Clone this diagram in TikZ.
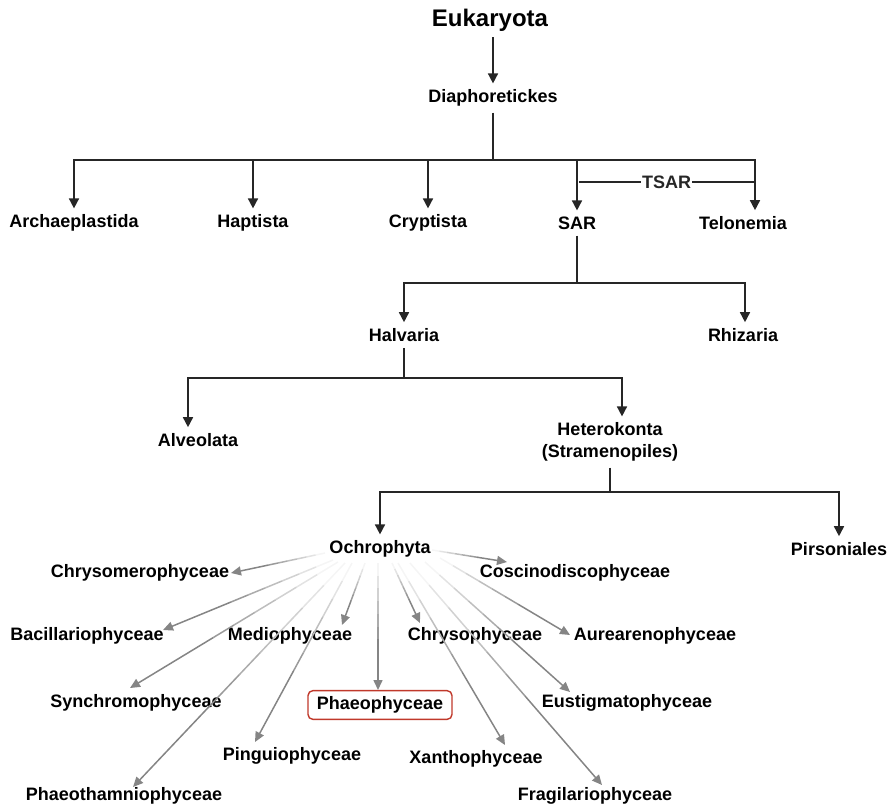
\documentclass[tikz,border=0pt]{standalone}
\usepackage{fontspec}
\setmainfont{Liberation Sans}
\usetikzlibrary{arrows.meta,calc}
\definecolor{Ink}{HTML}{262626}
\definecolor{Fade}{HTML}{858585}
\definecolor{BoxRed}{HTML}{C0392B}

\begin{document}
\begin{tikzpicture}[x=1pt,y=-1pt,
    taxon/.style={font=\fontsize{18}{22}\selectfont\bfseries,inner sep=6pt,align=center},
    link/.style={Ink,line width=1.6pt},
    branch/.style={link,-{Triangle[length=10pt,width=10pt]}},
    ray/.style={Fade,line width=1.5pt,-{Triangle[length=10pt,width=9pt]}}]
  \useasboundingbox (0,0) rectangle (893,809);

  % upper tree
  \node[taxon,font=\fontsize{24}{28}\selectfont\bfseries] (euk) at (490,20) {Eukaryota};
  \node[taxon] (dia) at (493,98) {Diaphoretickes};
  \node[taxon] (arch) at (74,223) {Archaeplastida};
  \node[taxon] (hapt) at (253,223) {Haptista};
  \node[taxon] (crypt) at (428,223) {Cryptista};
  \node[taxon] (sar) at (577,223) {SAR};
  \node[taxon] (telo) at (743,223) {Telonemia};
  \node[taxon] (halv) at (404,335) {Halvaria};
  \node[taxon] (rhiz) at (743,335) {Rhizaria};
  \node[taxon] (alve) at (198,440) {Alveolata};
  \node[taxon] (hetk) at (610,442) {Heterokonta\\(Stramenopiles)};
  \node[taxon] (och) at (380,549) {Ochrophyta};
  \node[taxon] (pirs) at (839,549) {Pirsoniales};

  \coordinate (bar1) at (493,160);
  \coordinate (bar2) at (577,283);
  \coordinate (bar3) at (404,378);
  \coordinate (bar4) at (610,492);

  \draw[branch] (dia |- euk.south) -- (dia);
  \draw[link] (dia) -- (bar1);
  \draw[branch] (bar1) -| (arch);
  \draw[branch] (bar1) -| (hapt);
  \draw[branch] (bar1) -| (crypt);
  \draw[branch] (bar1) -| (sar);
  \draw[branch] (bar1) -| ([xshift=12]telo.north);
  \coordinate (tsarL) at (579,182);
  \coordinate (tsarR) at (754,182);
  \draw[link,line width=1.3pt] (tsarL) -- (tsarR)
    node[midway,fill=white,inner sep=1pt,font=\fontsize{18}{22}\selectfont\bfseries] (tsar) {TSAR};

  \draw[link] (sar) -- (bar2);
  \draw[branch] (bar2) -| (halv);
  \draw[branch] (bar2) -| ([xshift=2]rhiz.north);
  \draw[link] (halv) -- (bar3);
  \draw[branch] (bar3) -| ([xshift=-10]alve.north);
  \draw[branch] (bar3) -| ([xshift=12]hetk.north);
  \draw[link] (hetk) -- (bar4);
  \draw[branch] (bar4) -| (och);
  \draw[branch] (bar4) -| (pirs);

  % Ochrophyta classes
  \node[taxon] (chrm) at (140,573) {Chrysomerophyceae};
  \node[taxon] (cosc) at (575,573) {Coscinodiscophyceae};
  \node[taxon] (baci) at (87,636) {Bacillariophyceae};
  \node[taxon] (medi) at (290,636) {Mediophyceae};
  \node[taxon] (chrs) at (475,636) {Chrysophyceae};
  \node[taxon] (aure) at (655,636) {Aurearenophyceae};
  \node[taxon] (sync) at (136,703) {Synchromophyceae};
  \node[taxon,draw=BoxRed,line width=1.4pt,rounded corners=5pt,inner xsep=9pt,inner ysep=6pt] (phae) at (380,705) {Phaeophyceae};
  \node[taxon] (eust) at (627,703) {Eustigmatophyceae};
  \node[taxon] (ping) at (292,756) {Pinguiophyceae};
  \node[taxon] (xant) at (476,759) {Xanthophyceae};
  \node[taxon] (phth) at (124,796) {Phaeothamniophyceae};
  \node[taxon] (frag) at (595,796) {Fragilariophyceae};

  \coordinate (chrm-s) at (325,553); \coordinate (chrm-t) at (231,573);
  \coordinate (cosc-s) at (432,550); \coordinate (cosc-t) at (507,562);
  \coordinate (baci-s) at (333,560); \coordinate (baci-t) at (163,630);
  \coordinate (medi-s) at (365,563); \coordinate (medi-t) at (342,625);
  \coordinate (chrs-s) at (392,563); \coordinate (chrs-t) at (420,623);
  \coordinate (aure-s) at (440,558); \coordinate (aure-t) at (570,635);
  \coordinate (sync-s) at (338,562); \coordinate (sync-t) at (130,688);
  \coordinate (phae-s) at (378,563); \coordinate (phae-t) at (378,690);
  \coordinate (eust-s) at (425,562); \coordinate (eust-t) at (570,692);
  \coordinate (ping-s) at (352,563); \coordinate (ping-t) at (255,742);
  \coordinate (xant-s) at (398,563); \coordinate (xant-t) at (505,745);
  \coordinate (phth-s) at (345,563); \coordinate (phth-t) at (133,787);
  \coordinate (frag-s) at (410,563); \coordinate (frag-t) at (602,785);

  % faded rays out of Ochrophyta
  \foreach \k in {chrm,cosc,baci,medi,chrs,aure,sync,phae,eust,ping,xant,phth,frag}{
    \foreach \i in {0,...,5}{
      \pgfmathtruncatemacro\c{8+15*\i}
      \draw[Fade!\c!white,line width=1.5pt]
        ($(\k-s)!{\i/10}!(\k-t)$) -- ($(\k-s)!{(\i+1)/10}!(\k-t)$);
    }
    \draw[ray] ($(\k-s)!0.6!(\k-t)$) -- (\k-t);
  }
\end{tikzpicture}
\end{document}
